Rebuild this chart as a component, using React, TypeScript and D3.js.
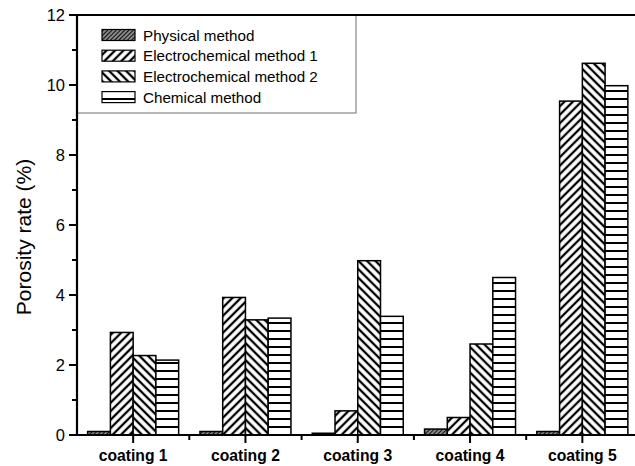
import React from "react";
import * as d3 from "d3";

const categories = ["coating 1", "coating 2", "coating 3", "coating 4", "coating 5"];
const seriesNames = ["Physical method", "Electrochemical method 1", "Electrochemical method 2", "Chemical method"];
const physical = [0.1, 0.1, 0.05, 0.17, 0.1];
const electro1 = [2.93, 3.93, 0.69, 0.5, 9.54];
const electro2 = [2.27, 3.29, 4.98, 2.6, 10.62];
const chemical = [2.14, 3.34, 3.39, 4.5, 9.98];
const yTicks = [0, 2, 4, 6, 8, 10, 12];
const yMinorTicks = [1, 3, 5, 7, 9, 11];

const seriesValues = [physical, electro1, electro2, chemical];
const patternIds = ["pPhys", "pE1", "pE2", "pChem"];

const W = 635;
const H = 466;
const left = 77;
const right = 638.5;
const top = 15;
const bottom = 435;
const font = "'Liberation Sans', Arial, sans-serif";

export default function App() {
  const x0 = d3.scaleBand<string>().domain(categories).range([left, right]).paddingInner(0).paddingOuter(0);
  const groupW = 91;
  const x1 = d3.scaleBand<string>().domain(seriesNames).range([0, groupW]).padding(0);
  const y = d3.scaleLinear().domain([0, 12]).range([bottom, top]);
  const center = (c: string) => (x0(c) as number) + x0.bandwidth() / 2;
  const boundaries = categories.slice(1).map((c) => x0(c) as number);

  return (
    <svg width={W} height={H} style={{ position: "absolute", left: 0, top: 0, background: "#fff" }}>
      <defs>
        <pattern id="pPhys" patternUnits="userSpaceOnUse" width={3} height={3} patternTransform="rotate(45)">
          <rect width={3} height={3} fill="#fff" />
          <line x1={1.5} y1={0} x2={1.5} y2={3} stroke="#111" strokeWidth={2} />
        </pattern>
        <pattern id="pE1" patternUnits="userSpaceOnUse" width={6} height={6} patternTransform="rotate(45)">
          <rect width={6} height={6} fill="#fff" />
          <line x1={3} y1={0} x2={3} y2={6} stroke="#000" strokeWidth={2.3} />
        </pattern>
        <pattern id="pE2" patternUnits="userSpaceOnUse" width={6} height={6} patternTransform="rotate(-45)">
          <rect width={6} height={6} fill="#fff" />
          <line x1={3} y1={0} x2={3} y2={6} stroke="#000" strokeWidth={2.3} />
        </pattern>
        <pattern id="pChem" patternUnits="userSpaceOnUse" width={8} height={8} y={-1}>
          <rect width={8} height={8} fill="#fff" />
          <line x1={0} y1={4} x2={8} y2={4} stroke="#000" strokeWidth={2} />
        </pattern>
      </defs>

      {/* legend box */}
      <rect x={left} y={top} width={279} height={98} fill="#fff" stroke="#888" strokeWidth={1.2} />
      {seriesNames.map((s, i) => {
        const cy = 35 + i * 20.7;
        return (
          <g key={s}>
            <rect x={102} y={cy - 5.5} width={33} height={11} fill={`url(#${patternIds[i]})`} stroke="#000" strokeWidth={1.2} />
            <text x={143} y={cy + 5.5} fontFamily={font} fontSize={15.2} fill="#000">{s}</text>
          </g>
        );
      })}

      {/* bars */}
      {categories.map((c, ci) => (
        <g key={c}>
          {seriesNames.map((s, si) => {
            const v = seriesValues[si][ci];
            const bx = center(c) - groupW / 2 + (x1(s) as number);
            return (
              <rect
                key={s}
                x={bx}
                y={y(v)}
                width={x1.bandwidth()}
                height={bottom - y(v)}
                fill={`url(#${patternIds[si]})`}
                stroke="#000"
                strokeWidth={1.5}
              />
            );
          })}
        </g>
      ))}

      {/* top frame line */}
      <line x1={left} y1={top} x2={W} y2={top} stroke="#000" strokeWidth={2.2} />
      {/* y axis */}
      <line x1={left} y1={top - 1} x2={left} y2={bottom + 1} stroke="#000" strokeWidth={2.2} />
      {yTicks.map((t) => (
        <g key={t}>
          <line x1={left - 8} y1={y(t)} x2={left} y2={y(t)} stroke="#000" strokeWidth={2} />
          <text x={left - 12} y={y(t) + 6} textAnchor="end" fontFamily={font} fontSize={16.5} fill="#000">{t}</text>
        </g>
      ))}
      {yMinorTicks.map((t) => (
        <line key={t} x1={left - 5} y1={y(t)} x2={left} y2={y(t)} stroke="#000" strokeWidth={2} />
      ))}
      {/* x axis */}
      <line x1={left - 8} y1={bottom} x2={W} y2={bottom} stroke="#000" strokeWidth={2.2} />
      {categories.map((c) => (
        <g key={c}>
          <line x1={center(c)} y1={bottom} x2={center(c)} y2={bottom + 8} stroke="#000" strokeWidth={2} />
          <text x={center(c)} y={461} textAnchor="middle" fontFamily={font} fontWeight="bold" fontSize={15.7} fill="#000">{c}</text>
        </g>
      ))}
      {boundaries.map((b, i) => (
        <line key={i} x1={b} y1={bottom} x2={b} y2={bottom + 5} stroke="#000" strokeWidth={2} />
      ))}

      <text
        transform={`translate(31, 237) rotate(-90)`}
        textAnchor="middle"
        fontFamily={font}
        fontSize={21}
        fill="#000"
      >
        Porosity rate (%)
      </text>
    </svg>
  );
}
